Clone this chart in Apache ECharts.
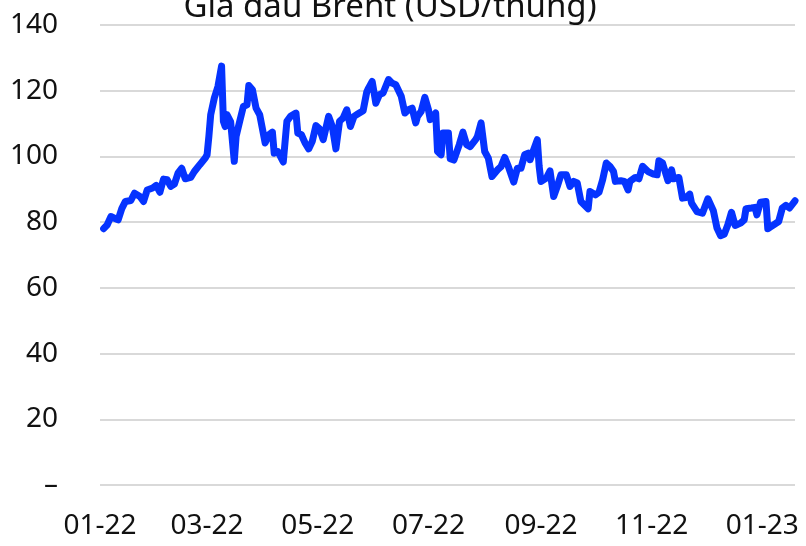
<!DOCTYPE html>
<html>
<head>
<meta charset="utf-8">
<title>Giá dầu Brent</title>
<script src="https://cdn.jsdelivr.net/npm/echarts@6/dist/echarts.min.js"></script>
<style>
  html, body { margin: 0; padding: 0; background: #fff; }
  #main { width: 806px; height: 546px; }
</style>
</head>
<body>
<div id="main"></div>
<script>
// trục thời gian: mọi ngày từ 01/01/2022 tới 19/01/2023
const firstDay = "2022-01-01";
const lastDay = "2023-01-19";

// ngày giao dịch
const dates = [
  "2022-01-03", "2022-01-05", "2022-01-07", "2022-01-09", "2022-01-11", "2022-01-13", "2022-01-15", "2022-01-18",
  "2022-01-20", "2022-01-23", "2022-01-25", "2022-01-27", "2022-01-30", "2022-02-01", "2022-02-03", "2022-02-05",
  "2022-02-07", "2022-02-09", "2022-02-11", "2022-02-13", "2022-02-15", "2022-02-17", "2022-02-20", "2022-02-22",
  "2022-02-25", "2022-02-26", "2022-02-28", "2022-03-01", "2022-03-02", "2022-03-03", "2022-03-04", "2022-03-05",
  "2022-03-07", "2022-03-09", "2022-03-10", "2022-03-11", "2022-03-12", "2022-03-14", "2022-03-16", "2022-03-17",
  "2022-03-19", "2022-03-21", "2022-03-23", "2022-03-24", "2022-03-26", "2022-03-28", "2022-03-30", "2022-03-31",
  "2022-04-02", "2022-04-04", "2022-04-06", "2022-04-07", "2022-04-09", "2022-04-12", "2022-04-14", "2022-04-16",
  "2022-04-19", "2022-04-20", "2022-04-22", "2022-04-24", "2022-04-26", "2022-04-28", "2022-04-30", "2022-05-02",
  "2022-05-04", "2022-05-07", "2022-05-09", "2022-05-11", "2022-05-13", "2022-05-15", "2022-05-17", "2022-05-19",
  "2022-05-21", "2022-05-23", "2022-05-26", "2022-05-28", "2022-05-29", "2022-05-31", "2022-06-02", "2022-06-04",
  "2022-06-06", "2022-06-09", "2022-06-11", "2022-06-13", "2022-06-16", "2022-06-18", "2022-06-20", "2022-06-22",
  "2022-06-24", "2022-06-25", "2022-06-27", "2022-06-29", "2022-07-01", "2022-07-02", "2022-07-05", "2022-07-06",
  "2022-07-08", "2022-07-09", "2022-07-12", "2022-07-13", "2022-07-15", "2022-07-18", "2022-07-20", "2022-07-22",
  "2022-07-24", "2022-07-27", "2022-07-28", "2022-07-30", "2022-08-01", "2022-08-03", "2022-08-05", "2022-08-08",
  "2022-08-10", "2022-08-12", "2022-08-14", "2022-08-17", "2022-08-19", "2022-08-21", "2022-08-23", "2022-08-25",
  "2022-08-26", "2022-08-30", "2022-08-31", "2022-09-01", "2022-09-04", "2022-09-06", "2022-09-08", "2022-09-10",
  "2022-09-12", "2022-09-15", "2022-09-17", "2022-09-19", "2022-09-21", "2022-09-23", "2022-09-27", "2022-09-28",
  "2022-10-01", "2022-10-03", "2022-10-05", "2022-10-07", "2022-10-09", "2022-10-11", "2022-10-12", "2022-10-15",
  "2022-10-17", "2022-10-19", "2022-10-20", "2022-10-23", "2022-10-25", "2022-10-27", "2022-10-30", "2022-11-02",
  "2022-11-04", "2022-11-05", "2022-11-07", "2022-11-10", "2022-11-12", "2022-11-13", "2022-11-16", "2022-11-18",
  "2022-11-20", "2022-11-22", "2022-11-23", "2022-11-26", "2022-11-29", "2022-12-02", "2022-12-05", "2022-12-07",
  "2022-12-09", "2022-12-11", "2022-12-13", "2022-12-15", "2022-12-17", "2022-12-20", "2022-12-22", "2022-12-23",
  "2022-12-26", "2022-12-28", "2022-12-29", "2022-12-31", "2023-01-03", "2023-01-04", "2023-01-06", "2023-01-10",
  "2023-01-12", "2023-01-14", "2023-01-16", "2023-01-19"
];

// giá Brent (USD/thùng)
const prices = [
  78.0, 79.2, 81.7, 81.2, 80.7, 84.1, 86.3, 86.6,
  88.8, 87.8, 86.3, 89.8, 90.4, 91.2, 89.1, 93.1,
  92.9, 90.9, 91.6, 94.9, 96.4, 93.2, 93.6, 95.4,
  97.5, 97.7, 99.5, 100.5, 106.1, 112.7, 112.9, 117.8,
  121.3, 127.5, 110.7, 109.1, 112.7, 110.5, 98.5, 106.1,
  110.7, 115.2, 115.7, 121.6, 120.3, 114.7, 112.7, 113.2,
  104.1, 106.6, 107.4, 101.0, 101.5, 98.3, 110.7, 112.2,
  113.2, 107.1, 106.6, 104.1, 102.3, 104.6, 109.4, 108.4,
  105.1, 112.2, 109.1, 102.3, 110.7, 111.7, 114.2, 109.1,
  112.2, 112.9, 113.9, 119.6, 120.8, 122.8, 116.2, 118.8,
  119.3, 123.4, 122.3, 121.8, 118.3, 113.2, 114.2, 114.7,
  110.2, 112.2, 113.7, 118.0, 114.2, 111.2, 113.2, 101.5,
  100.5, 107.1, 107.1, 99.3, 98.9, 103.6, 107.4, 103.6,
  103.0, 105.1, 106.1, 110.2, 101.5, 99.5, 93.9, 95.9,
  96.9, 99.7, 97.0, 92.2, 96.4, 96.4, 100.5, 101.0,
  99.0, 105.1, 97.0, 92.4, 93.4, 95.6, 87.8, 90.9,
  94.4, 94.4, 90.9, 92.4, 91.9, 86.3, 84.1, 89.3,
  88.3, 89.1, 92.9, 98.0, 97.0, 95.4, 92.4, 92.6,
  92.4, 89.8, 92.4, 93.6, 93.2, 97.0, 95.4, 94.6,
  94.4, 98.7, 98.0, 92.6, 95.9, 93.2, 93.6, 87.3,
  87.5, 88.5, 85.8, 83.2, 82.7, 87.1, 83.5, 78.2,
  75.9, 76.3, 79.2, 83.0, 79.0, 79.7, 80.7, 84.1,
  84.3, 84.5, 82.2, 86.1, 86.3, 78.0, 78.7, 80.2,
  84.3, 85.1, 84.3, 86.5
];

// nhãn trục hoành: ngày đầu các tháng lẻ
const tickDays = ["2022-01-01", "2022-03-01", "2022-05-01", "2022-07-01", "2022-09-01", "2022-11-01", "2023-01-01"];
const yTicks = [0, 20, 40, 60, 80, 100, 120, 140];

var allDays = [];
var t = new Date(firstDay + "T00:00:00Z");
var end = new Date(lastDay + "T00:00:00Z");
while (t <= end) {
  allDays.push(t.toISOString().slice(0, 10));
  t.setUTCDate(t.getUTCDate() + 1);
}

var font = "Noto Sans";
var myChart = echarts.init(document.getElementById("main"));

var option = {
  animation: false,
  title: {
    text: "Giá dầu Brent (USD/thùng)",
    left: 385,
    top: -18,
    textAlign: "center",
    textStyle: {
      fontFamily: font,
      fontSize: 33,
      lineHeight: 42,
      fontWeight: "normal",
      color: "#111"
    }
  },
  grid: {
    left: 100,
    right: 11,
    top: 25,
    bottom: 61
  },
  xAxis: {
    type: "category",
    data: allDays,
    boundaryGap: false,
    axisLine: { show: false },
    axisTick: { show: false },
    splitLine: { show: false },
    axisLabel: {
      interval: function (index, value) {
        return tickDays.indexOf(value) > -1;
      },
      formatter: function (value) {
        return value.slice(5, 7) + "-" + value.slice(2, 4);
      },
      margin: 27,
      fontFamily: font,
      fontSize: 28,
      color: "#111",
      hideOverlap: false
    }
  },
  yAxis: {
    type: "value",
    min: yTicks[0],
    max: yTicks[yTicks.length - 1],
    interval: yTicks[1] - yTicks[0],
    axisLine: { show: false },
    axisTick: { show: false },
    splitLine: {
      lineStyle: { color: "#d9d9d9", width: 2 }
    },
    axisLabel: {
      margin: 42,
      fontFamily: font,
      fontSize: 28,
      color: "#111",
      formatter: function (v) {
        return v === 0 ? "–" : v;
      }
    }
  },
  series: [
    {
      type: "line",
      data: dates.map(function (d, i) {
        return [d, prices[i]];
      }),
      showSymbol: false,
      smooth: false,
      lineStyle: {
        color: "#0533ff",
        width: 7,
        cap: "round",
        join: "round"
      }
    }
  ]
};

myChart.setOption(option);
</script>
</body>
</html>
